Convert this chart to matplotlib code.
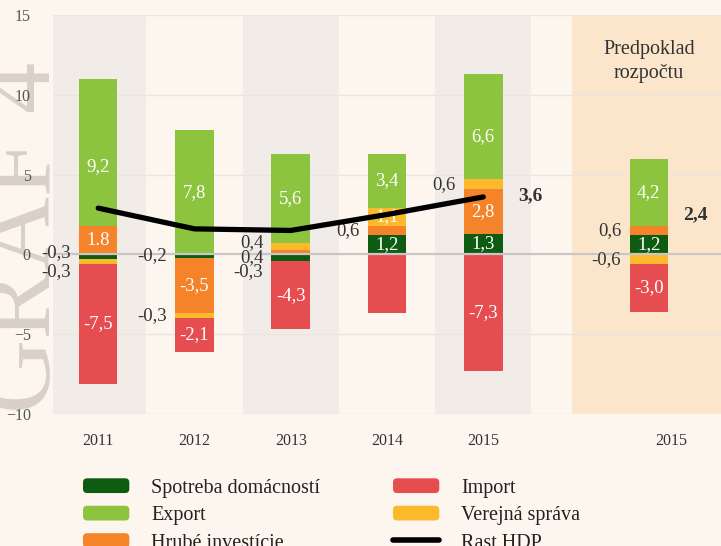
import matplotlib.pyplot as plt
from matplotlib.patches import Patch, FancyBboxPatch
from matplotlib.lines import Line2D
from matplotlib.legend_handler import HandlerPatch

# Data
roky = ['2011', '2012', '2013', '2014', '2015', '2015']
pozicie = [0, 1, 2, 3, 4, 5.72]
spotreba = [-0.3, -0.2, -0.4, 1.2, 1.3, 1.2]
investicie = [1.8, -3.5, 0.3, 0.6, 2.8, 0.6]
verejna = [-0.3, -0.3, 0.4, 1.1, 0.6, -0.6]
export = [9.2, 7.8, 5.6, 3.4, 6.6, 4.2]
dovoz = [-7.5, -2.1, -4.3, -3.7, -7.3, -3.0]
rast_hdp = [2.9, 1.6, 1.5, 2.5, 3.6, 2.4]

# popisky tak, ako su v grafe
lab_spotreba = ['-0,3', '-0,2', '0,4', '1,2', '1,3', '1,2']
lab_investicie = ['1.8', '-3,5', '-0,3', '0,6', '2,8', '0,6']
lab_verejna = ['-0,3', '-0,3', '0,4', '1,1', '0,6', '-0,6']
lab_export = ['9,2', '7,8', '5,6', '3,4', '6,6', '4,2']
lab_dovoz = ['-7,5', '-2,1', '-4,3', '', '-7,3', '-3,0']
lab_rast = ['3,6', '2,4']

serie = [
    ('Spotreba domácností', spotreba, lab_spotreba, '#0d5c12'),
    ('Hrubé investície', investicie, lab_investicie, '#f5832a'),
    ('Verejná správa', verejna, lab_verejna, '#fdb92c'),
    ('Export', export, lab_export, '#8cc43f'),
    ('Import', dovoz, lab_dovoz, '#e64d51'),
]
# posuny popiskov (body), aby sa neprekryvali
posun = {(0, 0): 3, (2, 0): -7, (1, 2): -14, (2, 2): 3, (3, 0): -10, (3, 4): -7}

plt.rcParams['font.family'] = ['Liberation Serif', 'DejaVu Serif']
bg = '#fcf6ee'
fig = plt.figure(figsize=(7.21, 5.46), dpi=100, facecolor=bg)
ax = fig.add_axes([53 / 721, 132 / 546, 668 / 721, 399 / 546])
ax.set_facecolor('none')

fig.text(72 / 721, 0.565, 'GRAF 4', rotation=90, fontsize=74, color='#d9d1c9',
         ha='right', va='center', zorder=-1)

# pozadie stlpcov
for i in [0, 2, 4]:
    ax.axvspan(pozicie[i] - 0.5, pozicie[i] + 0.5, color='#f1ece7', lw=0, zorder=0)
ax.axvspan(4.92, 6.5, color='#fbe6cc', lw=0, zorder=0)
for y in [-10, -5, 5, 10, 15]:
    ax.axhline(y, color='#ebe5de', lw=1, zorder=1)

w = 0.4
pos_base = [0.0] * 6
neg_base = [0.0] * 6
for si, (nazov, vals, labs, farba) in enumerate(serie):
    for i, v in enumerate(vals):
        if v >= 0:
            b = pos_base[i]
            pos_base[i] += v
        else:
            b = neg_base[i]
            neg_base[i] += v
        ax.bar(pozicie[i], v, w, bottom=b, color=farba, zorder=2)
        if not labs[i]:
            continue
        dy = posun.get((si, i), 0)
        yc = b + v / 2
        if abs(v) >= 1:
            ax.annotate(labs[i], (pozicie[i], yc), xytext=(0, dy), textcoords='offset points',
                        ha='center', va='center', color='white', fontsize=13.5, zorder=4)
        else:
            ax.annotate(labs[i], (pozicie[i] - w / 2, yc), xytext=(-6, dy), textcoords='offset points',
                        ha='right', va='center', color='#333333', fontsize=13.5, zorder=4)

ax.axhline(0, color='#cac6c3', lw=1.6, zorder=3)

ax.plot(pozicie[:5], rast_hdp[:5], color='black', lw=3.8, solid_capstyle='round', zorder=5)
for i, t in zip([4, 5], lab_rast):
    ax.annotate(t, (pozicie[i] + w / 2, rast_hdp[i]), xytext=(11, 1), textcoords='offset points',
                ha='left', va='center', fontsize=14, fontweight='bold', color='#333333')

ax.text(pozicie[5], 12.1, 'Predpoklad\nrozpočtu', ha='center', va='center',
        fontsize=14.5, color='#333333', linespacing=1.35)

ax.set_xlim(-0.47, 6.47)
ax.set_ylim(-10, 15)
ax.set_yticks([-10, -5, 0, 5, 10, 15])
ax.set_xticks([0, 1, 2, 3, 4, 5.95])
ax.set_xticklabels(roky)
ax.tick_params(axis='y', length=0, pad=16, labelsize=11.5, labelcolor='#555555')
ax.tick_params(axis='x', length=0, pad=14, labelsize=11.5, labelcolor='#333333')
for s in ax.spines.values():
    s.set_visible(False)


class RoundHandler(HandlerPatch):
    def create_artists(self, legend, orig_handle, xdescent, ydescent, width, height, fontsize, trans):
        p = FancyBboxPatch((-xdescent, -ydescent), width, height,
                           boxstyle='round,pad=0,rounding_size=3',
                           fc=orig_handle.get_facecolor(), ec='none', transform=trans)
        return [p]


farby = {n: f for n, _, _, f in serie}
poradie = ['Spotreba domácností', 'Export', 'Hrubé investície', 'Import', 'Verejná správa']
handles = [Patch(color=farby[n]) for n in poradie]
handles.append(Line2D([], [], color='black', lw=4, solid_capstyle='round'))
labels = poradie + ['Rast HDP']
fig.legend(handles, labels, ncol=2, loc='upper left', bbox_to_anchor=(83 / 721, 0.124),
           frameon=False, fontsize=14.5, handlelength=2.3, handleheight=0.75, handletextpad=1.1,
           columnspacing=3.6, labelspacing=0.4, borderpad=0, borderaxespad=0,
           labelcolor='#222222', handler_map={Patch: RoundHandler()})

plt.savefig('out.png', dpi=100, facecolor=bg)
